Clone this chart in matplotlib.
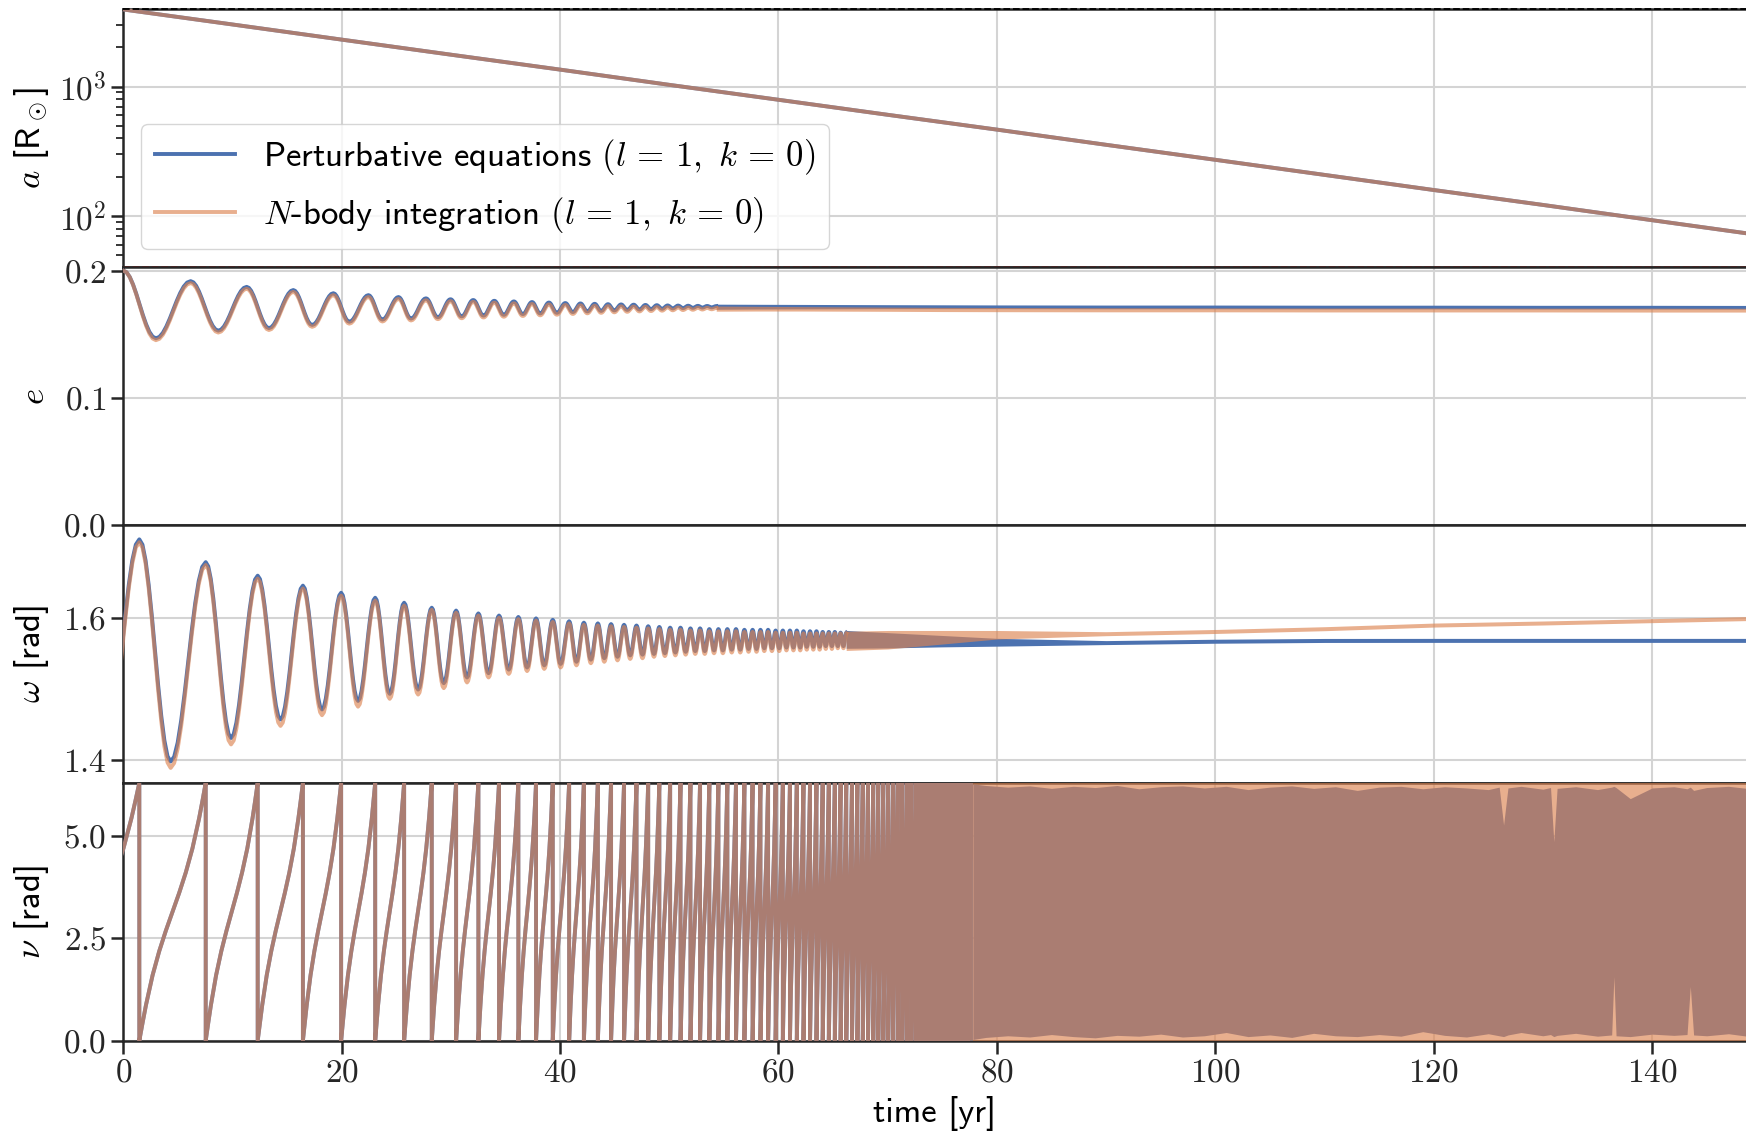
import matplotlib
matplotlib.use("Agg")
import matplotlib.pyplot as plt
import numpy as np
from matplotlib.lines import Line2D
from matplotlib.ticker import FuncFormatter, LogLocator, NullFormatter, MultipleLocator

plt.rcParams['font.family'] = 'cmss10'
plt.rcParams['mathtext.fontset'] = 'cm'
plt.rcParams['axes.unicode_minus'] = False
plt.rcParams['axes.formatter.use_mathtext'] = True

BLUE = '#4C72B0'
ORANGE = '#DD8452'
ALPHA = 0.65
LW = 2.8
DARK = '#262626'

# semi-major axis [R_sun]
t_a = [0, 10, 20, 30, 40, 50, 60, 70, 80, 90, 100, 110, 120, 130, 140, 149]
a_vals = [3930, 3010, 2300, 1760, 1350, 1030, 790, 605, 465, 355, 272, 208, 159, 122, 93, 73]
a_top, a_bottom = 3930, 40.3

# pericentre passages (where nu wraps), yr
t_peri = [-5.8, 1.47, 7.55, 12.31, 16.45, 19.95, 23.07, 25.72, 28.25, 30.48,
          32.52, 34.41, 36.18, 37.80, 39.33, 40.83, 42.18, 43.46, 44.67, 45.86,
          47.00, 48.07, 49.09, 50.08, 51.03, 51.94, 52.82, 53.67, 54.50, 55.32,
          56.11, 56.88, 57.63, 58.35, 59.05, 59.74, 60.40, 61.05, 61.68, 62.29,
          62.89, 63.48, 64.05, 64.61, 65.16, 65.69, 66.21, 66.73, 67.23, 67.72,
          68.20, 68.68, 69.14, 69.60, 70.05, 70.49, 70.92, 71.34, 71.76, 72.17,
          72.58, 72.97, 73.36, 73.75, 74.13, 74.50, 74.87, 75.23, 75.59, 75.94,
          76.29, 76.63, 76.97, 77.30, 77.63]

# true anomaly over one orbit (fraction of period -> rad)
orbit_phase = [0, 0.05, 0.1, 0.2, 0.3, 0.4, 0.5, 0.6, 0.7, 0.8, 0.9, 0.95, 1.0]
orbit_nu = [0, 0.444, 0.867, 1.597, 2.183, 2.683, 3.1416, 3.600, 4.100, 4.686, 5.416, 5.839, 6.2832]

# shape of a half oscillation between two successive extrema
half_frac = [0, 0.1, 0.2, 0.3, 0.4, 0.5, 0.6, 0.7, 0.8, 0.9, 1.0]
half_shape = [0, 0.024, 0.095, 0.206, 0.345, 0.5, 0.655, 0.794, 0.905, 0.976, 1.0]

# eccentricity extrema
t_e_ext = [0.00, 2.99, 6.17, 8.70, 11.30, 13.34, 15.57, 17.30, 19.24, 20.70,
           22.45, 23.73, 25.20, 26.35, 27.72, 28.81, 29.97, 30.99, 32.05, 32.99,
           33.98, 34.85, 35.77, 36.59, 37.43, 38.18, 38.98, 39.71, 40.48, 41.17,
           41.87, 42.50, 43.17, 43.76, 44.39, 44.97, 45.59, 46.15, 46.74, 47.27,
           47.82, 48.33, 48.86, 49.34, 49.85, 50.32, 50.81, 51.26, 51.73, 52.16,
           52.62, 53.03, 53.47, 53.88, 54.31]
e_pert_ext = [0.2000, 0.1468, 0.1917, 0.1528, 0.1872, 0.1548, 0.1847, 0.1573, 0.1822, 0.1598,
              0.1807, 0.1615, 0.1792, 0.1623, 0.1782, 0.1633, 0.1775, 0.1640, 0.1769, 0.1646,
              0.1763, 0.1652, 0.1758, 0.1658, 0.1753, 0.1663, 0.1749, 0.1668, 0.1745, 0.1674,
              0.1742, 0.1679, 0.1739, 0.1683, 0.1736, 0.1687, 0.1734, 0.1691, 0.1732, 0.1694,
              0.1730, 0.1697, 0.1728, 0.1700, 0.1726, 0.1703, 0.1725, 0.1705, 0.1724, 0.1707,
              0.1723, 0.1709, 0.1722, 0.1711, 0.1721]
e_nbody_ext = [0.2000, 0.1453, 0.1902, 0.1513, 0.1857, 0.1533, 0.1832, 0.1558, 0.1807, 0.1583,
               0.1792, 0.1600, 0.1777, 0.1608, 0.1767, 0.1618, 0.1760, 0.1625, 0.1754, 0.1631,
               0.1748, 0.1637, 0.1743, 0.1643, 0.1738, 0.1648, 0.1734, 0.1653, 0.1730, 0.1659,
               0.1727, 0.1664, 0.1724, 0.1668, 0.1721, 0.1672, 0.1719, 0.1676, 0.1717, 0.1679,
               0.1715, 0.1682, 0.1713, 0.1685, 0.1711, 0.1688, 0.1710, 0.1690, 0.1709, 0.1692,
               0.1708, 0.1694, 0.1707, 0.1696, 0.1706]

# argument of pericentre extrema
t_w_ext = [-1.75, 1.47, 4.34, 7.55, 9.87, 12.31, 14.40, 16.45, 18.20, 19.95,
           21.50, 23.07, 24.40, 25.72, 27.00, 28.25, 29.35, 30.48, 31.48, 32.52,
           33.45, 34.41, 35.30, 36.18, 36.98, 37.80, 38.55, 39.33, 40.05, 40.83,
           41.50, 42.18, 42.82, 43.46, 44.05, 44.67, 45.26, 45.86, 46.42, 47.00,
           47.55, 48.07, 48.60, 49.09, 49.60, 50.08, 50.56, 51.03, 51.50, 51.94,
           52.38, 52.82, 53.25, 53.67, 54.10, 54.50, 54.91, 55.32, 55.72, 56.11,
           56.50, 56.88, 57.26, 57.63, 57.99, 58.35, 58.70, 59.05, 59.40, 59.74,
           60.07, 60.40, 60.73, 61.05, 61.37, 61.68, 61.99, 62.29, 62.59, 62.89,
           63.19, 63.48, 63.77, 64.05, 64.33, 64.61, 64.89, 65.16, 65.43, 65.69,
           65.95, 66.21]
w_pert_ext = [1.400, 1.710, 1.398, 1.678, 1.431, 1.659, 1.457, 1.645, 1.471, 1.635,
              1.483, 1.628, 1.493, 1.621, 1.499, 1.614, 1.508, 1.610, 1.516, 1.606,
              1.522, 1.603, 1.527, 1.601, 1.530, 1.599, 1.533, 1.597, 1.535, 1.595,
              1.538, 1.593, 1.541, 1.592, 1.543, 1.591, 1.545, 1.590, 1.547, 1.589,
              1.548, 1.588, 1.549, 1.587, 1.550, 1.586, 1.551, 1.586, 1.552, 1.585,
              1.553, 1.585, 1.553, 1.584, 1.554, 1.584, 1.554, 1.584, 1.555, 1.584,
              1.555, 1.583, 1.556, 1.583, 1.556, 1.583, 1.557, 1.583, 1.557, 1.582,
              1.557, 1.582, 1.558, 1.582, 1.558, 1.582, 1.558, 1.581, 1.559, 1.581,
              1.559, 1.581, 1.559, 1.580, 1.560, 1.580, 1.560, 1.580, 1.560, 1.579,
              1.560, 1.579]
w_nbody_ext = [1.392, 1.706, 1.389, 1.674, 1.422, 1.655, 1.448, 1.641, 1.463, 1.631,
               1.475, 1.624, 1.486, 1.617, 1.492, 1.611, 1.501, 1.607, 1.509, 1.603,
               1.516, 1.600, 1.521, 1.598, 1.525, 1.596, 1.528, 1.594, 1.530, 1.592,
               1.533, 1.590, 1.536, 1.589, 1.538, 1.588, 1.540, 1.587, 1.542, 1.586,
               1.543, 1.585, 1.545, 1.584, 1.546, 1.583, 1.547, 1.583, 1.548, 1.582,
               1.549, 1.582, 1.549, 1.581, 1.550, 1.581, 1.550, 1.581, 1.551, 1.581,
               1.551, 1.580, 1.552, 1.580, 1.552, 1.580, 1.553, 1.580, 1.553, 1.579,
               1.553, 1.579, 1.554, 1.579, 1.554, 1.579, 1.554, 1.578, 1.555, 1.578,
               1.555, 1.578, 1.555, 1.578, 1.556, 1.578, 1.556, 1.578, 1.557, 1.578,
               1.557, 1.578]

# unresolved oscillations later on: visible band edges
t_band_e = [54.3, 58, 62, 66, 70, 75, 80, 90, 100, 110, 120, 130, 140, 149]
e_pert_hi = [0.1736, 0.1735, 0.1734, 0.1733, 0.1732, 0.1731, 0.1730, 0.1729, 0.1729, 0.1728, 0.1728, 0.1727, 0.1727, 0.1726]
e_pert_lo = [0.1696, 0.1698, 0.1699, 0.1700, 0.1701, 0.1701, 0.1701, 0.1700, 0.1700, 0.1699, 0.1699, 0.1698, 0.1698, 0.1697]
e_nbody_hi = [0.1721, 0.1719, 0.1717, 0.1715, 0.1713, 0.1711, 0.1710, 0.1708, 0.1707, 0.1706, 0.1706, 0.1705, 0.1705, 0.1704]
e_nbody_lo = [0.1681, 0.1682, 0.1682, 0.1681, 0.1680, 0.1678, 0.1677, 0.1676, 0.1676, 0.1675, 0.1675, 0.1675, 0.1674, 0.1674]

t_band_w = [66.2, 70, 75, 80, 90, 100, 110, 120, 130, 140, 149]
w_pert_hi = [1.582, 1.579, 1.575, 1.571, 1.5678, 1.5697, 1.5708, 1.5709, 1.5709, 1.5709, 1.5709]
w_pert_lo = [1.557, 1.5575, 1.559, 1.560, 1.5622, 1.5641, 1.5652, 1.5653, 1.5653, 1.5653, 1.5653]
w_nbody_hi = [1.581, 1.582, 1.582, 1.582, 1.5803, 1.5834, 1.5873, 1.5924, 1.5953, 1.5986, 1.6016]
w_nbody_lo = [1.554, 1.556, 1.563, 1.570, 1.5747, 1.5778, 1.5817, 1.5868, 1.5897, 1.5930, 1.5960]

# true anomaly once orbits are unresolved
t_nu_band = [77.80, 79.0, 81.0, 83.0, 85.0, 87.0, 89.0, 91.0, 93.0, 95.0,
             97.0, 99.0, 101.0, 103.0, 105.0, 107.0, 109.0, 111.0, 113.0, 115.0,
             117.0, 119.0, 121.0, 123.0, 125.0, 126.0, 126.4, 126.8, 128.0, 130.0,
             130.7, 131.0, 131.3, 133.0, 135.0, 136.3, 136.5, 136.7, 138.0, 140.0,
             142.0, 143.2, 143.5, 143.8, 145.0, 147.0, 148.7]
nu_pert_hi = [6.26, 6.22, 6.18, 6.21, 6.15, 6.20, 6.17, 6.22, 6.14, 6.19,
              6.21, 6.16, 6.20, 6.12, 6.18, 6.21, 6.15, 6.19, 6.10, 6.18,
              6.20, 6.14, 6.19, 6.16, 6.12, 6.18, 5.26, 6.16, 6.20, 6.13,
              6.17, 4.85, 6.15, 6.19, 6.12, 6.18, 6.20, 6.17, 5.90, 6.16,
              6.19, 6.14, 6.18, 6.10, 6.17, 6.20, 6.15]
nu_pert_lo = [0.03, 0.08, 0.12, 0.09, 0.15, 0.10, 0.07, 0.13, 0.11, 0.16,
              0.09, 0.12, 0.20, 0.10, 0.14, 0.08, 0.18, 0.12, 0.10, 0.15,
              0.11, 0.22, 0.13, 0.09, 0.17, 0.12, 0.10, 0.14, 0.20, 0.12,
              0.15, 0.10, 0.13, 0.18, 0.11, 0.14, 1.56, 0.12, 0.10, 0.16,
              0.13, 0.15, 1.32, 0.14, 0.12, 0.17, 0.11]

t_max = 148.6
x_ticks = [0, 20, 40, 60, 80, 100, 120, 140]


def through_extrema(t_ext, v_ext):
    ts, vs = [], []
    for i in range(len(t_ext) - 1):
        t0, t1 = t_ext[i], t_ext[i + 1]
        v0, v1 = v_ext[i], v_ext[i + 1]
        for f, s in zip(half_frac[:-1], half_shape[:-1]):
            ts.append(t0 + f * (t1 - t0))
            vs.append(v0 + s * (v1 - v0))
    ts.append(t_ext[-1])
    vs.append(v_ext[-1])
    return ts, vs


def sawtooth(peri):
    ts, vs = [], []
    for t0, t1 in zip(peri[:-1], peri[1:]):
        for p, n in zip(orbit_phase, orbit_nu):
            ts.append(t0 + p * (t1 - t0))
            vs.append(n)
    # the wrap at the last pericentre
    ts.append(peri[-1])
    vs.append(orbit_nu[0])
    return ts, vs


fig = plt.figure(figsize=(17.46, 11.40), dpi=100)
axes = fig.subplots(4, 1, sharex=True)
fig.subplots_adjust(left=0.0706, right=1.0, top=0.9917, bottom=0.0871, hspace=0)
ax_a, ax_e, ax_w, ax_nu = axes

# a
ax_a.plot(t_a, a_vals, color=BLUE, lw=LW, zorder=3)
ax_a.plot(t_a, a_vals, color=ORANGE, lw=LW, alpha=ALPHA, zorder=4)
ax_a.set_yscale('log')
ax_a.set_ylim(a_bottom, a_top)
ax_a.axhline(a_top, color='k', ls='--', lw=1.3, zorder=6, clip_on=False)
ax_a.axhline(a_bottom, color='#b22222', ls='--', lw=1.3, zorder=6, clip_on=False)
ax_a.yaxis.set_major_locator(LogLocator(base=10, numticks=10))
ax_a.yaxis.set_minor_locator(LogLocator(base=10, subs=np.arange(2, 10), numticks=20))
ax_a.yaxis.set_major_formatter(FuncFormatter(lambda v, p: r'$10^{%d}$' % int(round(np.log10(v)))))
ax_a.yaxis.set_minor_formatter(NullFormatter())
ax_a.set_ylabel(r'$a$ [R$_\odot$]')

# e
ts, vs = through_extrema(t_e_ext, e_pert_ext)
ax_e.plot(ts, vs, color=BLUE, lw=LW, zorder=3)
ax_e.fill_between(t_band_e, e_pert_lo, e_pert_hi, color=BLUE, lw=0, zorder=3)
ts, vs = through_extrema(t_e_ext, e_nbody_ext)
ax_e.plot(ts, vs, color=ORANGE, lw=LW, alpha=ALPHA, zorder=4)
ax_e.fill_between(t_band_e, e_nbody_lo, e_nbody_hi, color=ORANGE, alpha=ALPHA, lw=0, zorder=4)
ax_e.set_ylim(0, 0.2026)
ax_e.yaxis.set_major_locator(MultipleLocator(0.1))
ax_e.set_ylabel(r'$e$')

# omega
ts, vs = through_extrema(t_w_ext, w_pert_ext)
ax_w.plot(ts, vs, color=BLUE, lw=LW, zorder=3)
ax_w.fill_between(t_band_w, w_pert_lo, w_pert_hi, color=BLUE, lw=0, zorder=3)
ts, vs = through_extrema(t_w_ext, w_nbody_ext)
ax_w.plot(ts, vs, color=ORANGE, lw=LW, alpha=ALPHA, zorder=4)
ax_w.fill_between(t_band_w, w_nbody_lo, w_nbody_hi, color=ORANGE, alpha=ALPHA, lw=0, zorder=4)
ax_w.set_ylim(1.368, 1.730)
ax_w.yaxis.set_major_locator(MultipleLocator(0.2))
ax_w.set_ylabel(r'$\omega$ [rad]')

# nu
ts, vs = sawtooth(t_peri)
ax_nu.plot(ts, vs, color=BLUE, lw=LW, zorder=3, solid_capstyle='butt')
ax_nu.fill_between(t_nu_band, nu_pert_lo, nu_pert_hi, color=BLUE, lw=0, zorder=3)
ax_nu.plot(ts, vs, color=ORANGE, lw=LW, alpha=ALPHA, zorder=4, solid_capstyle='butt')
ax_nu.fill_between(t_nu_band, 0, 2 * np.pi, color=ORANGE, alpha=ALPHA, lw=0, zorder=4)
ax_nu.set_ylim(0, 2 * np.pi)
ax_nu.yaxis.set_major_locator(MultipleLocator(2.5))
ax_nu.set_ylabel(r'$\nu$ [rad]')
ax_nu.set_xlabel('time [yr]', fontsize=25, labelpad=6)

lin_fmt = FuncFormatter(lambda v, p: r'$%.1f$' % v)
for ax in (ax_e, ax_w, ax_nu):
    ax.yaxis.set_major_formatter(lin_fmt)

for ax in axes:
    ax.set_xlim(0, t_max)
    ax.set_axisbelow(True)
    ax.grid(True, which='major', color='#d4d4d4', lw=1.5)
    for side in ('left', 'top', 'bottom'):
        ax.spines[side].set_color(DARK)
        ax.spines[side].set_linewidth(1.8)
    ax.spines['right'].set_visible(False)
    ax.tick_params(axis='y', which='major', direction='out', length=9, width=1.8,
                   color=DARK, labelsize=24, labelcolor=DARK, pad=3)
    ax.tick_params(axis='y', which='minor', direction='out', length=5, width=1.3, color=DARK)
    ax.yaxis.label.set_size(25)
    ax.yaxis.labelpad = 6
    ax.tick_params(axis='x', which='both', bottom=False, top=False, labelbottom=False)

ax_nu.xaxis.set_major_locator(plt.FixedLocator(x_ticks))
ax_nu.xaxis.set_major_formatter(FuncFormatter(lambda v, p: r'$%d$' % v))
ax_nu.tick_params(axis='x', which='major', bottom=True, labelbottom=True, direction='out',
                  length=9, width=1.8, color=DARK, labelsize=24, labelcolor=DARK, pad=4)

handles = [Line2D([], [], color=BLUE, lw=LW),
           Line2D([], [], color=ORANGE, lw=LW, alpha=ALPHA)]
labels = [r'Perturbative equations $(l\,=\,1,\ k\,=\,0)$',
          r'$N$-body integration $(l\,=\,1,\ k\,=\,0)$']
ax_a.legend(handles, labels, loc='lower left', bbox_to_anchor=(0.011, 0.072),
            borderaxespad=0, fontsize=25, handlelength=2.3, frameon=True,
            framealpha=0.8, edgecolor='#cccccc', fancybox=True)

fig.align_ylabels(axes)
fig.savefig('out.png', dpi=100)
